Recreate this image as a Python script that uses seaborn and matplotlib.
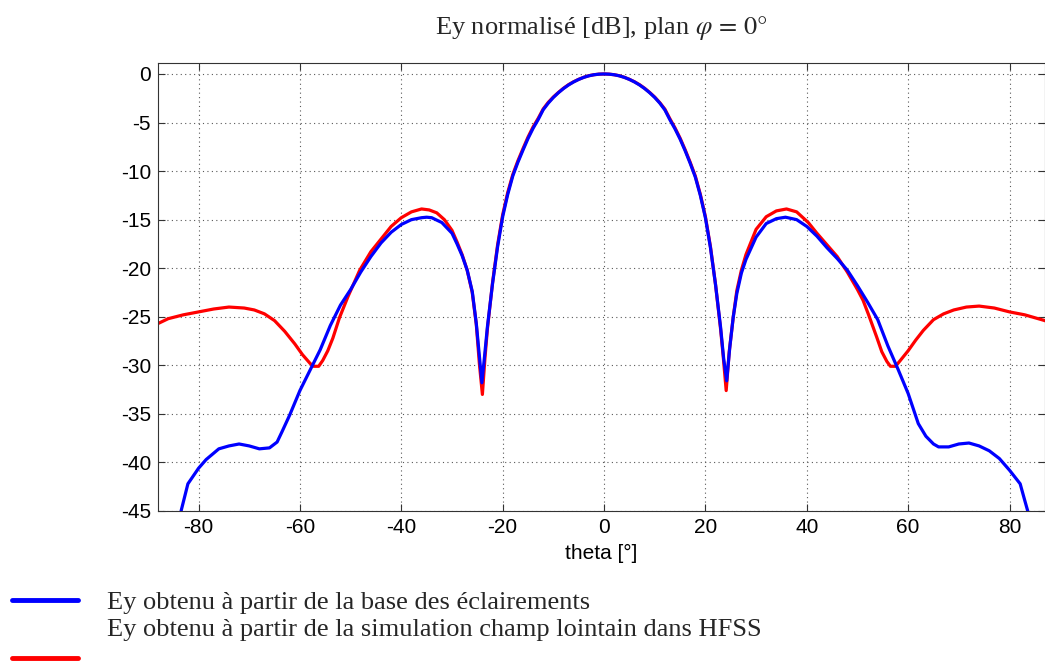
import matplotlib
matplotlib.use("Agg")  # no display in the sandbox
import matplotlib.pyplot as plt
from matplotlib.lines import Line2D
import seaborn as sns

# theta [deg] / normalised Ey [dB]
THETA_BASE = [
    -84.5, -83.4, -82.1, -80.0, -78.5, -76.0, -74.0, -72.0, -70.0, -68.0,
    -66.0, -64.5, -63.5, -62.0, -60.0, -58.0, -56.0, -54.0, -52.0, -50.0,
    -48.0, -46.0, -44.0, -42.0, -40.0, -38.0, -36.0, -35.0, -34.0, -32.0,
    -30.0, -29.0, -28.0, -27.0, -26.0, -25.2, -24.6, -24.1, -23.6, -23.0,
    -22.0, -21.0, -20.0, -19.0, -18.0, -17.0, -16.0, -15.0, -14.0, -13.0,
    -12.0, -11.0, -10.0, -9.0, -8.0, -7.0, -6.0, -5.0, -4.0, -3.0,
    -2.0, -1.0, 0.0, 1.0, 2.0, 3.0, 4.0, 5.0, 6.0, 7.0,
    8.0, 9.0, 10.0, 11.0, 12.0, 13.0, 14.0, 15.0, 16.0, 17.0,
    18.0, 19.0, 20.0, 21.0, 22.0, 23.0, 23.6, 24.2, 24.8, 25.5,
    26.2, 27.1, 28.0, 30.0, 32.0, 34.0, 35.8, 38.0, 40.0, 42.0,
    44.0, 46.0, 48.0, 50.0, 52.0, 54.0, 56.0, 58.0, 60.0, 62.0,
    63.5, 65.0, 66.0, 68.0, 70.0, 72.0, 74.0, 76.0, 78.0, 80.0,
    82.1, 83.0, 83.7, 84.5,
]
EY_BASE = [
    -47.5, -44.9, -42.2, -40.6, -39.7, -38.6, -38.3, -38.1, -38.3, -38.6,
    -38.5, -37.9, -36.8, -35.1, -32.6, -30.5, -28.4, -25.9, -23.8, -22.2,
    -20.4, -18.8, -17.4, -16.3, -15.5, -15.0, -14.8, -14.75, -14.8, -15.3,
    -16.4, -17.5, -18.7, -20.2, -22.4, -25.7, -29.0, -31.8, -29.2, -26.0,
    -21.6, -17.8, -14.7, -12.4, -10.5, -9.1, -7.85, -6.65, -5.6, -4.7,
    -3.68, -3.0, -2.42, -1.93, -1.5, -1.13, -0.82, -0.56, -0.35, -0.19,
    -0.08, -0.02, 0.0, -0.02, -0.08, -0.19, -0.35, -0.56, -0.82, -1.13,
    -1.5, -1.93, -2.42, -3.0, -3.7, -4.72, -5.65, -6.7, -7.9, -9.2,
    -10.6, -12.5, -14.8, -17.9, -21.7, -26.1, -29.3, -31.6, -28.2, -25.0,
    -22.6, -20.5, -19.1, -16.8, -15.4, -14.9, -14.75, -15.0, -15.7, -16.7,
    -17.9, -19.0, -20.2, -21.8, -23.5, -25.3, -28.0, -30.4, -32.9, -36.0,
    -37.3, -38.1, -38.4, -38.4, -38.1, -38.0, -38.3, -38.8, -39.6, -40.8,
    -42.2, -43.9, -45.2, -47.5,
]

THETA_HFSS = [
    -88.0, -86.0, -83.0, -80.0, -77.0, -74.0, -71.0, -69.0, -67.0, -65.0,
    -63.0, -61.0, -59.5, -58.0, -57.3, -56.3, -55.5, -54.5, -53.5, -52.2,
    -50.5, -48.2, -46.0, -44.0, -42.0, -40.0, -38.0, -36.0, -34.5, -33.0,
    -31.5, -30.0, -29.0, -28.0, -27.0, -26.0, -25.2, -24.6, -24.0, -23.5,
    -23.0, -22.0, -21.0, -20.0, -19.0, -18.0, -17.0, -16.0, -15.0, -14.0,
    -13.0, -12.0, -11.0, -10.0, -9.0, -8.0, -7.0, -6.0, -5.0, -4.0,
    -3.0, -2.0, -1.0, 0.0, 1.0, 2.0, 3.0, 4.0, 5.0, 6.0,
    7.0, 8.0, 9.0, 10.0, 11.0, 12.0, 13.0, 14.0, 15.0, 16.0,
    17.0, 18.0, 19.0, 20.0, 21.0, 22.0, 23.0, 23.5, 24.1, 24.7,
    25.5, 26.2, 27.1, 28.0, 30.0, 32.0, 34.0, 36.0, 38.0, 40.3,
    42.0, 44.0, 46.0, 48.0, 50.0, 51.1, 52.2, 53.8, 54.8, 55.8,
    56.5, 57.5, 58.3, 60.0, 61.5, 63.0, 65.0, 67.0, 69.0, 71.5,
    74.0, 77.0, 80.0, 83.0, 85.0, 87.0, 88.0,
]
EY_HFSS = [
    -25.7, -25.2, -24.8, -24.5, -24.2, -24.0, -24.1, -24.3, -24.7, -25.4,
    -26.5, -27.8, -28.9, -29.8, -30.1, -30.1, -29.5, -28.5, -27.2, -25.1,
    -22.9, -20.2, -18.3, -17.0, -15.7, -14.8, -14.2, -13.9, -14.0, -14.3,
    -15.0, -16.1, -17.3, -18.6, -20.2, -22.5, -25.8, -29.8, -33.0, -29.3,
    -26.2, -21.5, -17.6, -14.5, -12.2, -10.35, -8.95, -7.7, -6.5, -5.45,
    -4.58, -3.6, -2.92, -2.37, -1.9, -1.47, -1.1, -0.8, -0.55, -0.34,
    -0.18, -0.08, -0.02, 0.0, -0.02, -0.08, -0.18, -0.34, -0.55, -0.8,
    -1.1, -1.47, -1.9, -2.38, -2.95, -3.62, -4.62, -5.55, -6.6, -7.8,
    -9.1, -10.5, -12.4, -14.7, -17.8, -21.7, -26.3, -29.0, -32.6, -28.6,
    -25.0, -22.3, -20.2, -18.6, -16.0, -14.7, -14.1, -13.9, -14.2, -15.3,
    -16.4, -17.6, -18.8, -20.4, -22.2, -23.3, -24.8, -27.1, -28.6, -29.6,
    -30.1, -30.1, -29.6, -28.5, -27.4, -26.4, -25.3, -24.7, -24.3, -24.0,
    -23.9, -24.1, -24.5, -24.8, -25.1, -25.4, -25.7,
]

X_TICKS = [-80, -60, -40, -20, 0, 20, 40, 60, 80]
Y_TICKS = [0, -5, -10, -15, -20, -25, -30, -35, -40, -45]
TITLE = "Ey normalisé [dB], plan $\\varphi\\,=\\,0°$"
X_LABEL = "theta [°]"
LEGEND_LABELS = [
    "Ey obtenu à partir de la base des éclairements",
    "Ey obtenu à partir de la simulation champ lointain dans HFSS",
]
BLUE = "#0000ff"
RED = "#ff0000"

sns.set_style("ticks")
plt.rcParams["font.family"] = ["Liberation Sans", "DejaVu Sans"]
plt.rcParams["mathtext.fontset"] = "stix"
plt.rcParams["axes.unicode_minus"] = False  # plain hyphens like the original

W, H = 1045, 662
fig = plt.figure(figsize=(W / 100, H / 100), dpi=100)
ax = fig.add_axes([158 / W, 1 - 511 / H, (W - 158) / W, (511 - 62.7) / H])

# red first so the blue curve sits on top where they overlap
sns.lineplot(x=THETA_HFSS, y=EY_HFSS, color=RED, linewidth=2.3,
             sort=False, estimator=None, ax=ax)
sns.lineplot(x=THETA_BASE, y=EY_BASE, color=BLUE, linewidth=2.3,
             sort=False, estimator=None, ax=ax)

ax.set_xlim(-88, 87)
ax.set_ylim(-45, 1.16)
ax.set_xticks(X_TICKS)
ax.set_yticks(Y_TICKS)
ax.grid(True, linestyle=(0, (1, 3)), color="0.35", linewidth=0.8)
ax.tick_params(direction="in", length=5, width=0.8, top=True, right=True,
               labelsize=15, pad=5, color="0.2", labelcolor="black")
for sp in ax.spines.values():
    sp.set_color("0.2")
    sp.set_linewidth(0.8)
ax.set_xlabel(X_LABEL, fontsize=15, labelpad=5, color="black")
ax.set_ylabel("")

fig.text(601.5 / W, 1 - 34 / H, TITLE, ha="center", va="baseline",
         family="Liberation Serif", fontsize=19)

# legend drawn by hand below the axes, as in the reference
for y_px, col in [(600, BLUE), (658, RED)]:
    fig.add_artist(Line2D([12 / W, 78 / W], [1 - y_px / H] * 2, color=col,
                          linewidth=3.5, transform=fig.transFigure))
for y_px, label in [(609, LEGEND_LABELS[0]), (636, LEGEND_LABELS[1])]:
    fig.text(107 / W, 1 - y_px / H, label, ha="left", va="baseline",
             family="Liberation Serif", fontsize=19)

fig.savefig("out.png", dpi=100)
